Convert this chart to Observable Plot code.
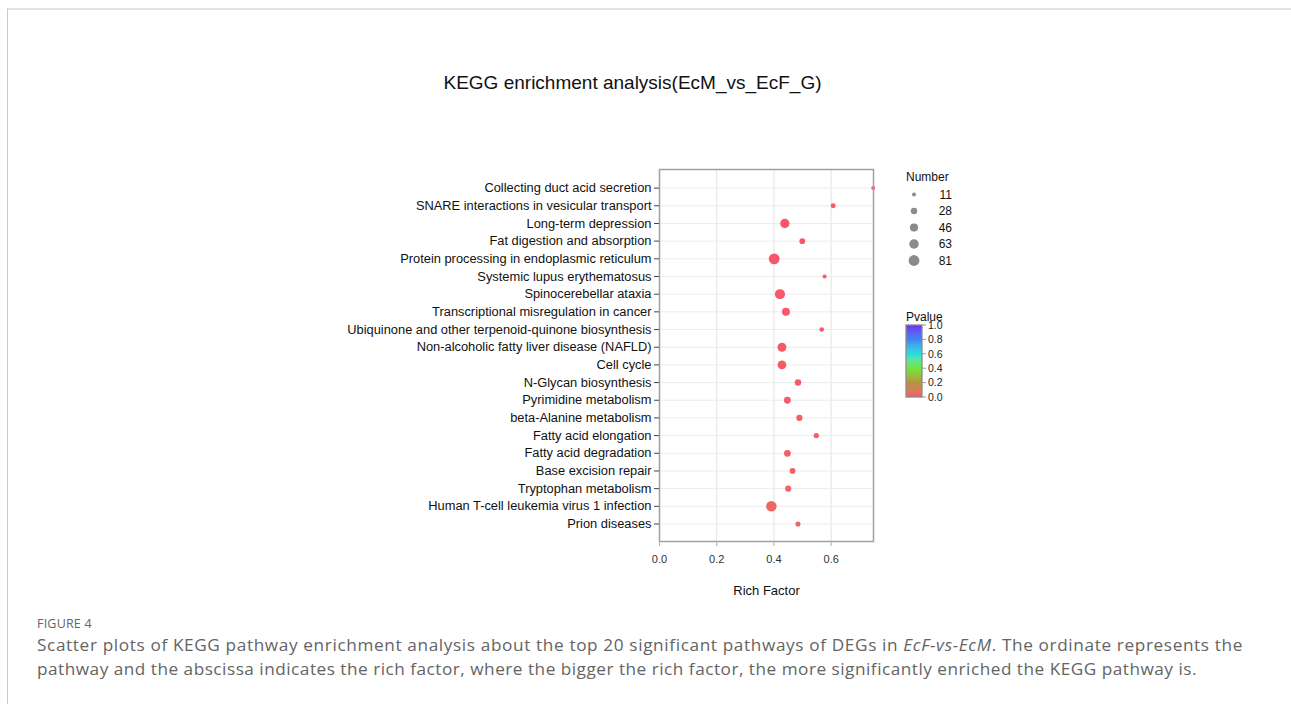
<!DOCTYPE html>
<html>
<head>
<meta charset="utf-8">
<script src="https://cdn.jsdelivr.net/npm/d3@7"></script>
<script src="https://cdn.jsdelivr.net/npm/@observablehq/plot@0.6"></script>
<style>
  html, body { margin: 0; padding: 0; background: #fff; }
  #page { position: relative; width: 1291px; height: 704px; overflow: hidden; background: #fff; }
  #card { position: absolute; left: 7px; top: 8px; width: 1300px; height: 720px;
          border-top: 2px solid #e2e2e2; border-left: 1.5px solid #c9c9c9; box-sizing: border-box; }
  #chart { position: absolute; left: 0; top: 0; }
  #title { position: absolute; left: 0; width: 1265px; top: 72px; text-align: center;
           font-family: "Liberation Sans", Arial, sans-serif; font-size: 19px; color: #111; }
  #figlabel { position: absolute; left: 37px; top: 615px; font-family: "Open Sans", sans-serif;
              font-size: 12.5px; color: #666; letter-spacing: 0.2px; }
  #caption { position: absolute; left: 37px; top: 633px; font-family: "Open Sans", sans-serif;
             font-size: 17.2px; line-height: 24px; color: #646464; white-space: nowrap; }
</style>
</head>
<body>
<div id="page">
  <div id="card"></div>
  <div id="title">KEGG enrichment analysis(EcM_vs_EcF_G)</div>
  <div id="chart"></div>
  <div id="figlabel">FIGURE 4</div>
  <div id="caption"><span id="cap1">Scatter plots of KEGG pathway enrichment analysis about the top 20 significant pathways of DEGs in <i>EcF-vs-EcM</i>. The ordinate represents the</span><br><span id="cap2">pathway and the abscissa indicates the rich factor, where the bigger the rich factor, the more significantly enriched the KEGG pathway is.</span></div>
</div>
<script>
// ---- data (top to bottom as shown) ----
const pathways = [
  "Collecting duct acid secretion",
  "SNARE interactions in vesicular transport",
  "Long-term depression",
  "Fat digestion and absorption",
  "Protein processing in endoplasmic reticulum",
  "Systemic lupus erythematosus",
  "Spinocerebellar ataxia",
  "Transcriptional misregulation in cancer",
  "Ubiquinone and other terpenoid-quinone biosynthesis",
  "Non-alcoholic fatty liver disease (NAFLD)",
  "Cell cycle",
  "N-Glycan biosynthesis",
  "Pyrimidine metabolism",
  "beta-Alanine metabolism",
  "Fatty acid elongation",
  "Fatty acid degradation",
  "Base excision repair",
  "Tryptophan metabolism",
  "Human T-cell leukemia virus 1 infection",
  "Prion diseases"
];
const richFactor = [0.747, 0.607, 0.438, 0.499, 0.401, 0.577, 0.421, 0.442, 0.567, 0.428,
                    0.428, 0.484, 0.447, 0.489, 0.548, 0.447, 0.465, 0.450, 0.391, 0.484];
const geneNumber = [11, 17, 61, 23, 81, 12, 70, 44, 15, 56,
                    53, 29, 32, 26, 20, 32, 23, 26, 76, 18];
const pValue = [0.001, 0.002, 0.002, 0.003, 0.003, 0.004, 0.005, 0.006, 0.007, 0.008,
                0.009, 0.010, 0.012, 0.014, 0.016, 0.018, 0.020, 0.030, 0.040, 0.035];
const xTicks = [0, 0.2, 0.4, 0.6];
const sizeBreaks = [11, 28, 46, 63, 81];
const pBreaks = [0, 0.2, 0.4, 0.6, 0.8, 1.0];
const pColors = ["#F9566B", "#B39540", "#6EE63A", "#1DE0E0", "#3F84F2", "#6B2BF4"];

const data = pathways.map((p, i) => ({pathway: p, rich: richFactor[i], number: geneNumber[i], p: pValue[i]}));

const plot = Plot.plot({
  width: 1291, height: 704,
  marginLeft: 659, marginRight: 418, marginTop: 169, marginBottom: 163,
  style: {fontFamily: "'Liberation Sans', Arial, sans-serif", color: "#1a1a1a", background: "transparent", overflow: "visible"},
  x: {domain: [0, 0.748]},
  y: {type: "point", domain: pathways, range: [187.6, 523.5], padding: 0, round: false},
  r: {type: "sqrt", domain: [0, 81], range: [0, 5.4]},
  color: {type: "linear", domain: pBreaks, range: pColors, interpolate: "lab"},
  marks: [
    Plot.gridX(xTicks, {stroke: "#e4e4e4", strokeOpacity: 1, strokeWidth: 1}),
    Plot.gridY({stroke: "#ececec", strokeOpacity: 1, strokeWidth: 1}),
    Plot.dot(data, {x: "rich", y: "pathway", r: "number", fill: "p", stroke: null, fillOpacity: 1}),
    Plot.frame({stroke: "#a0a0a0", strokeWidth: 1.5}),
    Plot.axisX(xTicks, {tickSize: 5, tickPadding: 9, fontSize: 11, stroke: "#b0b0b0", fill: "#333", tickFormat: d3.format(".1f"), label: null}),
    Plot.axisY({tickSize: 5, tickPadding: 3, fontSize: 12.85, stroke: "#444", fill: "#111", label: null}),
    Plot.text(["Rich Factor"], {frameAnchor: "bottom", dy: 53, fontSize: 13, fill: "#111"})
  ]
});
document.getElementById("chart").appendChild(plot);

// ---- legends drawn from the plot's own scales ----
const svg = d3.select(plot);
const rScale = plot.scale("r");
const rFn = d3.scaleSqrt().domain(rScale.domain).range(rScale.range);

const gs = svg.append("g").attr("font-family", "'Liberation Sans', Arial, sans-serif").attr("text-anchor", "start");
gs.append("text").attr("x", 906).attr("y", 181).attr("font-size", 12).attr("fill", "#111").text("Number");
sizeBreaks.forEach((b, i) => {
  const cy = 194.5 + i * 16.5;
  gs.append("circle").attr("cx", 914).attr("cy", cy).attr("r", rFn(b)).attr("fill", "#8a8a8a");
  gs.append("text").attr("x", 952).attr("y", cy + 4.2).attr("text-anchor", "end").attr("font-size", 12).attr("fill", "#111").text(b);
});

const cScale = plot.scale("color");
const cFn = d3.scaleLinear().domain(cScale.domain).range(cScale.range).interpolate(d3.interpolateLab);
const gc = svg.append("g").attr("font-family", "'Liberation Sans', Arial, sans-serif").attr("text-anchor", "start");
const barX = 906, barW = 16, barTop = 325, barBot = 397;
const grad = svg.append("defs").append("linearGradient").attr("id", "pgrad")
  .attr("x1", 0).attr("y1", 1).attr("x2", 0).attr("y2", 0);
d3.range(0, 1.0001, 0.05).forEach(t => grad.append("stop").attr("offset", t).attr("stop-color", cFn(t)));
gc.append("text").attr("x", 906).attr("y", 320.5).attr("font-size", 12).attr("fill", "#111").text("Pvalue");
gc.append("rect").attr("x", barX).attr("y", barTop).attr("width", barW).attr("height", barBot - barTop)
  .attr("fill", "url(#pgrad)").attr("stroke", "#8c8c8c").attr("stroke-width", 1.3);
const py = d3.scaleLinear().domain([0, 1]).range([barBot, barTop]);
pBreaks.forEach(b => {
  gc.append("line").attr("x1", barX + barW).attr("x2", barX + barW + 4).attr("y1", py(b)).attr("y2", py(b)).attr("stroke", "#999");
  gc.append("text").attr("x", 928).attr("y", py(b) + 3.8).attr("font-size", 10.5).attr("fill", "#222").text(d3.format(".1f")(b));
});

// fit caption lines to reference widths
function fit(id, w) {
  const el = document.getElementById(id);
  const cur = el.getBoundingClientRect().width;
  const n = el.textContent.length;
  el.style.letterSpacing = ((w - cur) / n) + "px";
}
fit("cap1", 1206);
fit("cap2", 1160);
</script>
</body>
</html>
